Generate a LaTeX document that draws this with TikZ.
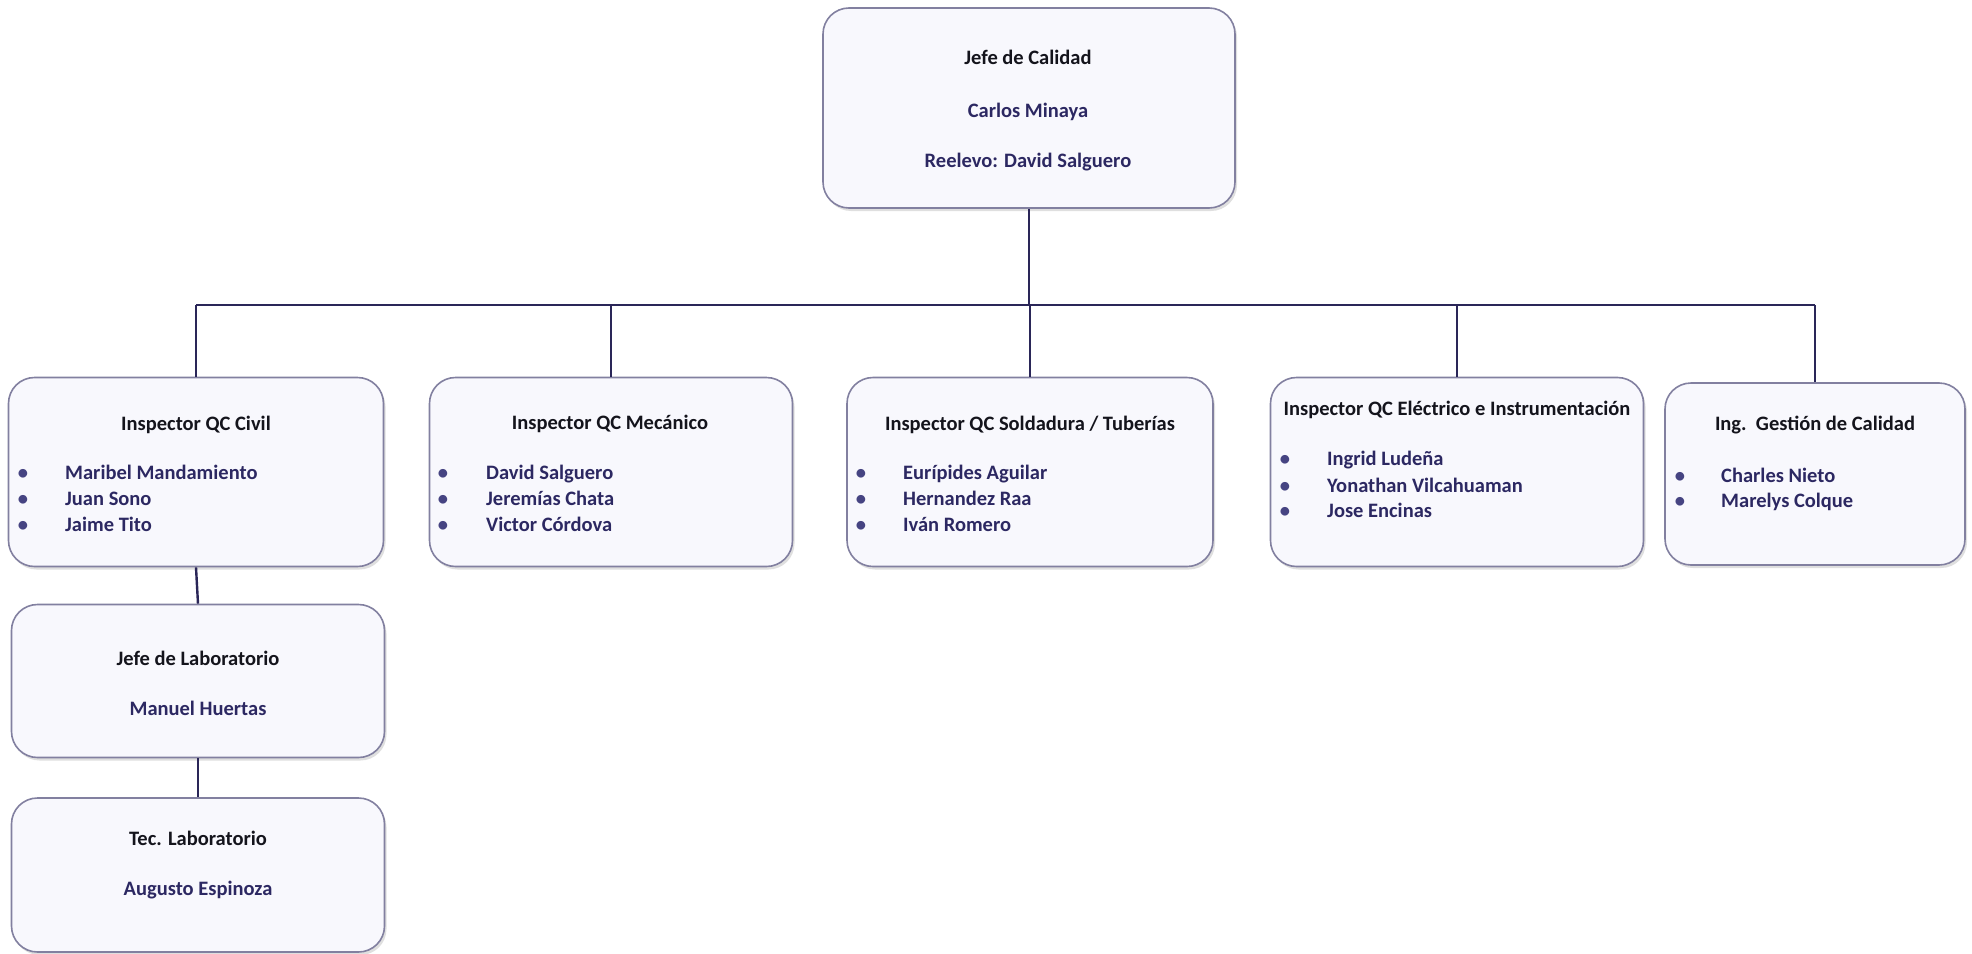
\documentclass[tikz,border=0pt]{standalone}
\usepackage{fontspec}
\setmainfont{Carlito}
\usetikzlibrary{shadows}
\definecolor{navy}{RGB}{44,40,98}
\definecolor{ttl}{RGB}{20,20,28}
\definecolor{frame}{RGB}{130,128,160}
\definecolor{boxfill}{RGB}{248,248,253}
\definecolor{line}{RGB}{42,38,88}
\definecolor{dot}{RGB}{70,68,130}
\begin{document}
\begin{tikzpicture}[x=1pt,y=-1pt,
  orgbox/.style={draw=frame, line width=1.6pt, fill=boxfill, rounded corners=26pt,
    drop shadow={shadow xshift=2pt, shadow yshift=-3pt, opacity=0.25, fill=gray}},
  ttltext/.style={text=ttl, font=\fontsize{20.5}{24}\selectfont\bfseries, inner sep=0pt, anchor=base},
  nametext/.style={text=navy, font=\fontsize{20.5}{24}\selectfont\bfseries, inner sep=0pt, anchor=base},
  listtext/.style={nametext, anchor=base west},
  bul/.style={text=dot, font=\fontsize{20.5}{24}\selectfont\bfseries, inner sep=0pt, anchor=base},
  conn/.style={draw=line, line width=2.4pt}]
\useasboundingbox (0,0) rectangle (1972,953);
\fill[white] (0,0) rectangle (1972,953);

% boxes
\node[orgbox, minimum width=412pt, minimum height=200pt] (top) at (1029,108) {};
\node[orgbox, minimum width=375pt, minimum height=189pt] (civ) at (196,472) {};
\node[orgbox, minimum width=363pt, minimum height=189pt] (mec) at (611,472) {};
\node[orgbox, minimum width=366pt, minimum height=189pt] (sol) at (1030,472) {};
\node[orgbox, minimum width=373pt, minimum height=189pt] (ele) at (1457,472) {};
\node[orgbox, minimum width=300pt, minimum height=182pt] (ges) at (1815,474) {};
\node[orgbox, minimum width=373pt, minimum height=153pt] (lab) at (198,681) {};
\node[orgbox, minimum width=373pt, minimum height=154pt] (tec) at (198,875) {};

% connectors
\coordinate (bar) at (0,305);
\draw[conn] (top.south) -- (top.south |- bar);
\draw[conn] (civ.north |- bar) -- (ges.north |- bar);
\draw[conn] (civ.north |- bar) -- (civ.north);
\draw[conn] (mec.north |- bar) -- (mec.north);
\draw[conn] (sol.north |- bar) -- (sol.north);
\draw[conn] (ele.north |- bar) -- (ele.north);
\draw[conn] (ges.north |- bar) -- (ges.north);
\draw[conn] (civ.south) -- (lab.north);
\draw[conn] (lab.south) -- (tec.north);

% top box text
\node[ttltext] (t1) at (1028,64) {Jefe de Calidad};
\node[nametext] (t2) at (1028,117) {Carlos Minaya};
\node[nametext] (t3) at (1028,167) {Reelevo: David Salguero};

% civil
\node[ttltext] (c0) at (196,430) {Inspector QC Civil};
\node[bul] (cb1) at (23,479) {•};
\node[bul] (cb2) at (23,505) {•};
\node[bul] (cb3) at (23,531) {•};
\node[listtext] (c1) at (65,479) {Maribel Mandamiento};
\node[listtext] (c2) at (65,505) {Juan Sono};
\node[listtext] (c3) at (65,531) {Jaime Tito};

% mecanico
\node[ttltext] (m0) at (610,429) {Inspector QC Mecánico};
\node[bul] (mb1) at (443,479) {•};
\node[bul] (mb2) at (443,505) {•};
\node[bul] (mb3) at (443,531) {•};
\node[listtext] (m1) at (486,479) {David Salguero};
\node[listtext] (m2) at (486,505) {Jeremías Chata};
\node[listtext] (m3) at (486,531) {Victor Córdova};

% soldadura
\node[ttltext] (s0) at (1030,430) {Inspector QC Soldadura / Tuberías};
\node[bul] (sb1) at (861,479) {•};
\node[bul] (sb2) at (861,505) {•};
\node[bul] (sb3) at (861,531) {•};
\node[listtext] (s1) at (903,479) {Eurípides Aguilar};
\node[listtext] (s2) at (903,505) {Hernandez Raa};
\node[listtext] (s3) at (903,531) {Iván Romero};

% electrico
\node[ttltext] (e0) at (1457,415) {Inspector QC Eléctrico e Instrumentación};
\node[bul] (eb1) at (1285,465) {•};
\node[bul] (eb2) at (1285,492) {•};
\node[bul] (eb3) at (1285,517) {•};
\node[listtext] (e1) at (1327,465) {Ingrid Ludeña};
\node[listtext] (e2) at (1327,492) {Yonathan Vilcahuaman};
\node[listtext] (e3) at (1327,517) {Jose Encinas};

% gestion
\node[ttltext] (g0) at (1815,430) {Ing.\ \ Gestión de Calidad};
\node[bul] (gb1) at (1680,482) {•};
\node[bul] (gb2) at (1680,507) {•};
\node[listtext] (g1) at (1721,482) {Charles Nieto};
\node[listtext] (g2) at (1721,507) {Marelys Colque};

% laboratorio
\node[ttltext] (l0) at (198,665) {Jefe de Laboratorio};
\node[nametext] (l1) at (198,715) {Manuel Huertas};
\node[ttltext] (k0) at (198,845) {Tec. Laboratorio};
\node[nametext] (k1) at (198,895) {Augusto Espinoza};
\end{tikzpicture}
\end{document}
